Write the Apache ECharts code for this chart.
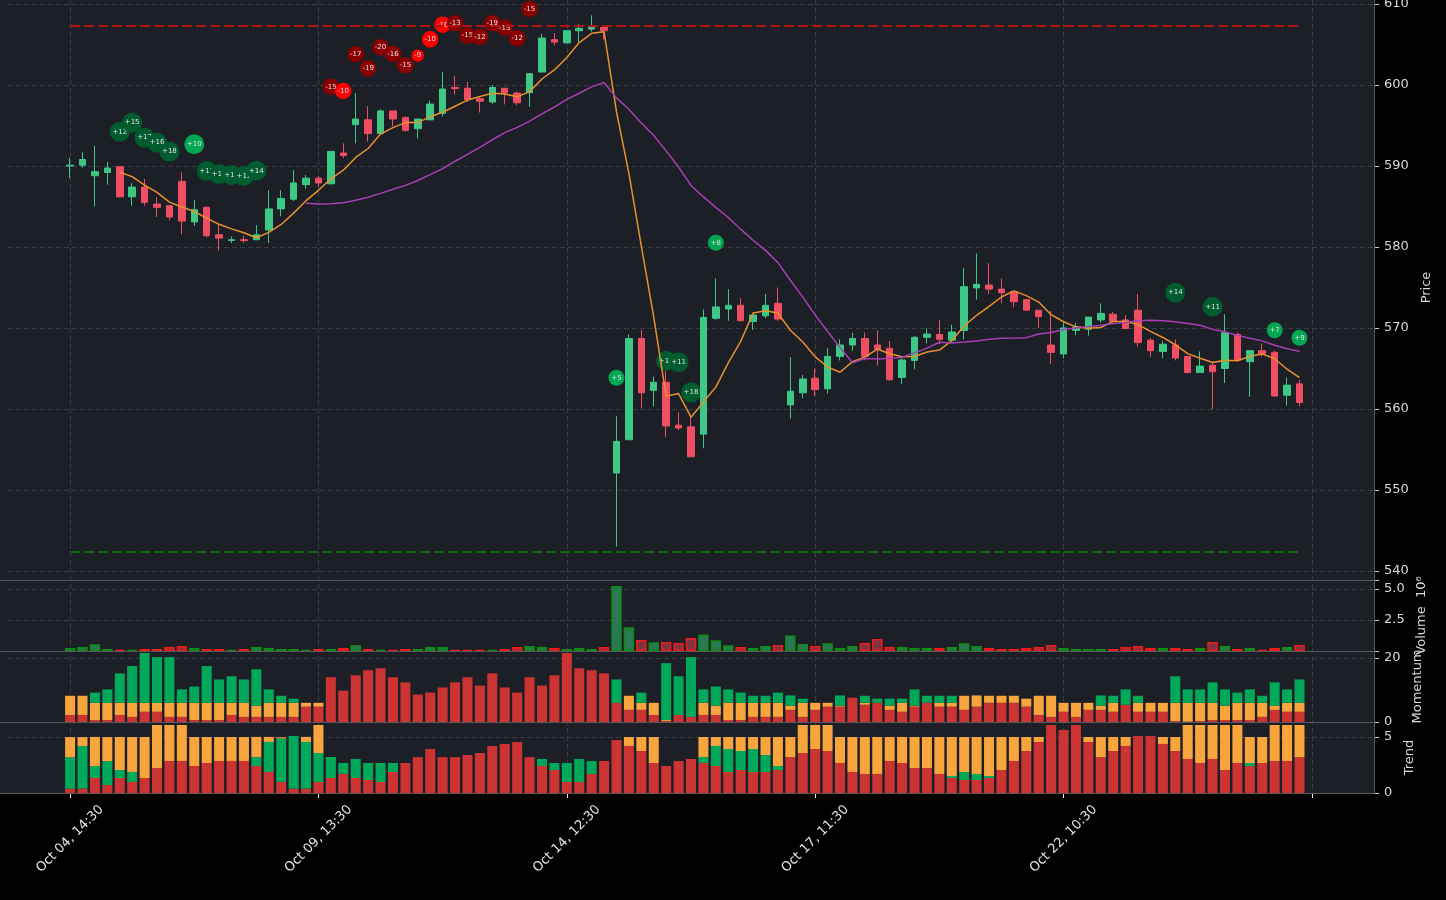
<!DOCTYPE html>
<html><head><meta charset="utf-8">
<script src="https://cdn.jsdelivr.net/npm/echarts/dist/echarts.min.js"></script>
<style>html,body{margin:0;padding:0;background:#000;}#c{width:1446px;height:900px;}</style>
</head><body><div id="c"></div>
<script>
// ---------- data ----------
const tickLabels = ['Oct 04, 14:30','Oct 09, 13:30','Oct 14, 12:30','Oct 17, 11:30','Oct 22, 10:30'];
const opens = [590.0,590.1,588.8,589.2,589.9,586.2,587.4,585.3,585.1,588.1,
583.1,584.9,581.5,580.8,580.9,580.9,582.1,584.7,585.9,587.7,
588.5,587.8,591.6,595.1,595.7,594.0,596.8,596.0,594.6,595.7,
596.5,599.7,599.6,598.3,597.9,599.6,599.0,599.05,601.6,605.6,
605.2,606.7,606.9,607.1,552.1,556.2,568.7,562.3,563.3,558.0,
557.8,556.9,571.2,572.35,572.8,570.8,571.5,573.05,560.5,562.0,
563.8,562.5,566.5,567.9,568.7,567.9,567.5,563.9,566.0,568.85,
569.2,568.5,569.7,574.95,575.3,574.8,574.5,573.5,572.2,567.9,
566.8,569.7,569.85,571.0,571.7,571.0,572.2,568.5,567.1,567.9,
566.5,564.5,565.4,565.0,569.2,565.85,567.2,567.0,561.7,563.1];
const closes = [590.1,590.8,589.3,589.75,586.2,587.4,585.5,584.9,583.7,583.2,
584.6,581.4,581.1,580.9,580.8,581.5,584.7,586.0,587.9,588.5,
587.9,591.8,591.3,595.8,594.0,596.8,595.8,594.4,595.8,597.65,
599.5,599.55,598.2,598.0,599.7,599.0,597.8,601.4,605.8,605.3,
606.7,607.0,607.1,606.7,556.0,568.7,562.0,563.3,557.9,557.65,
554.1,571.3,572.6,572.8,570.9,571.6,572.8,571.1,562.2,563.7,
562.4,566.5,567.9,568.7,566.5,567.4,563.6,566.05,568.85,569.25,
568.6,569.5,575.1,575.4,574.8,574.35,573.25,572.2,571.4,567.0,
570.0,570.1,571.35,571.8,570.8,569.95,568.2,567.2,568.0,566.3,
564.5,565.3,564.6,569.4,566.0,567.2,566.8,561.6,562.95,560.8];
const lows = [588.5,589.8,585.0,587.7,586.1,585.1,585.1,583.7,583.3,581.6,
582.6,581.2,579.6,580.5,580.5,580.9,580.5,583.8,585.7,587.2,
587.4,587.8,591.0,592.8,593.0,594.0,594.9,594.2,593.4,595.7,
596.1,598.85,597.9,596.6,597.7,597.6,597.5,597.3,601.6,604.9,
605.2,605.3,606.6,605.6,543.0,556.2,560.1,560.3,556.5,557.4,
554.1,555.15,571.0,570.9,570.8,569.75,571.2,570.9,558.8,561.3,
561.6,561.9,566.0,567.2,566.0,565.35,563.5,563.05,564.9,568.1,
568.0,568.3,568.6,573.5,574.2,573.05,572.55,572.2,570.0,565.55,
566.25,569.1,569.05,570.65,570.7,569.8,567.7,566.45,566.25,566.0,
564.4,564.5,560.0,563.2,565.85,561.5,566.45,561.6,560.4,560.3];
const highs = [591.0,591.7,592.5,590.5,590.0,587.9,588.4,586.1,585.2,589.2,
585.8,585.0,582.8,581.3,581.4,582.7,587.0,587.0,589.5,588.9,
588.8,591.8,592.8,599.0,597.4,597.0,596.8,596.1,595.8,598.1,
601.6,601.1,600.4,598.6,600.0,599.6,599.2,601.4,606.3,606.4,
606.7,607.5,608.6,607.4,559.1,569.2,569.75,564.0,564.7,559.6,
559.1,572.3,576.1,574.8,573.7,571.8,574.2,575.0,566.4,564.2,
565.0,567.5,568.6,569.4,569.45,569.75,568.4,566.25,569.0,569.95,
571.0,570.4,577.4,579.2,578.0,576.1,574.5,573.5,572.2,572.1,
570.65,570.6,571.35,573.05,572.0,571.6,574.2,568.75,568.4,568.6,
566.5,567.1,565.75,571.7,569.45,567.3,568.1,567.2,563.9,563.6];
const sma5Start = 4;
const sma5 = [589.23,588.69,587.63,586.75,585.54,584.94,584.38,583.56,582.8,582.24,
581.76,581.14,581.8,582.78,584.18,585.72,587.0,588.42,589.48,591.06,
592.16,593.94,594.74,595.36,595.36,596.09,596.63,597.38,598.14,598.58,
598.99,598.89,598.54,599.18,600.74,601.86,603.4,605.24,606.38,606.56,
596.7,589.1,580.1,571.34,561.58,561.91,558.99,560.85,562.71,565.69,
568.34,571.84,572.14,571.84,569.72,568.28,566.44,565.18,564.54,565.84,
566.4,567.4,566.82,566.45,566.48,567.03,567.27,568.45,570.26,571.57,
572.68,573.83,574.58,574.0,573.2,571.64,570.77,570.14,569.97,570.05,
570.81,570.8,570.42,569.59,568.83,567.93,566.84,566.26,565.74,566.02,
565.96,566.5,566.8,566.2,564.91,563.87];
const sma20Start = 19;
const sma20 = [585.41,585.30,585.35,585.45,585.76,586.15,586.62,587.13,587.61,588.21,
588.93,589.68,590.59,591.44,592.30,593.24,594.12,594.77,595.54,596.44,
597.28,598.22,598.98,599.77,600.31,598.41,597.0,595.32,593.76,591.87,
589.87,587.6,586.18,584.9,583.64,582.2,580.83,579.58,578.07,575.89,
573.81,571.59,569.57,567.61,565.71,566.23,566.17,566.25,566.39,566.93,
567.51,568.24,568.15,568.27,568.40,568.6,568.74,568.76,568.81,569.27,
569.44,569.82,570.0,570.17,570.33,570.54,570.67,570.9,570.96,570.91,
570.77,570.56,570.35,569.83,569.53,569.09,568.73,568.41,567.88,567.45,
567.14];
const resistance = 607.28;
const support = 542.35;
const volumeM = [0.24,0.32,0.54,0.16,0.08,0.08,0.16,0.16,0.32,0.40,
0.24,0.16,0.16,0.08,0.16,0.32,0.24,0.16,0.16,0.08,
0.16,0.16,0.24,0.48,0.16,0.08,0.08,0.16,0.16,0.32,
0.32,0.08,0.08,0.08,0.08,0.16,0.32,0.40,0.32,0.24,
0.16,0.24,0.16,0.32,5.24,1.91,0.89,0.70,0.73,0.65,
1.05,1.34,0.86,0.46,0.32,0.24,0.40,0.48,1.26,0.56,
0.40,0.62,0.24,0.40,0.65,0.97,0.32,0.32,0.24,0.24,
0.24,0.32,0.62,0.40,0.24,0.16,0.16,0.24,0.32,0.48,
0.24,0.16,0.16,0.16,0.16,0.32,0.40,0.24,0.24,0.24,
0.16,0.24,0.73,0.40,0.16,0.24,0.08,0.24,0.32,0.48];
const momRed = [2.2,2.2,0.6,0.6,2.2,1.6,3.2,3.2,1.6,1.6,
0.6,0.6,0.6,2.2,1.6,1.6,1.6,1.6,1.6,4.8,
4.8,14.0,9.8,14.6,16.2,16.8,14.0,12.4,8.6,9.2,
10.8,12.4,14.0,11.4,15.2,10.8,9.2,14.0,11.4,14.6,
21.6,16.8,16.2,15.2,6.0,3.8,3.8,2.2,0.3,2.2,
1.6,2.2,2.2,0.6,0.6,1.6,1.6,1.6,3.8,1.6,
3.8,4.8,4.8,7.6,5.4,6.0,3.8,3.2,4.8,6.0,
4.8,4.8,3.8,4.8,6.0,6.0,6.0,4.8,2.2,1.6,
3.2,1.6,3.8,3.8,3.2,5.4,3.2,3.2,3.2,0.3,
0.1,0.3,0.6,0.6,0.6,0.6,1.6,3.8,3.2,3.2];
const momOrange = [6.0,6.0,5.4,5.4,3.8,4.4,2.8,2.8,4.4,4.4,
5.4,5.4,5.4,3.8,4.4,3.5,4.4,4.4,4.4,1.2,
1.2,0,0,0,0,0,0,0,0,0,
0,0,0,0,0,0,0,0,0,0,
0,0,0,0,0,4.4,2.2,3.8,0.3,0,
0,3.8,2.9,5.4,5.4,4.4,4.4,4.4,1.3,4.4,
2.2,1.2,0.3,0,0.6,0,1.3,2.8,0.3,0,
1.2,1.2,4.4,3.5,2.2,2.2,2.2,2.5,6.0,6.6,
2.8,4.4,2.2,1.3,2.8,0,2.8,2.8,2.8,5.7,
5.9,5.7,5.4,4.5,5.4,5.4,4.4,1.3,2.8,2.8];
const momGreen = [0,0,3.2,4.2,9.2,11.5,15.6,14.3,14.3,4.2,
5.1,11.5,7.3,8.3,7.3,11.4,4.2,2.2,1.3,0,
0,0,0,0,0,0,0,0,0,0,
0,0,0,0,0,0,0,0,0,0,
0,0,0,0,7.3,0,3.2,0,17.8,12.1,
18.7,4.2,6.0,4.2,3.2,2.2,2.2,3.2,3.2,1.3,
0,0,3.2,0,2.2,1.3,2.2,1.3,5.1,2.2,
2.2,2.2,0,0,0,0,0,0,0,0,
0,0,0,3.2,2.2,4.8,2.2,0,0,8.3,
4.2,4.2,6.4,5.1,3.2,4.2,2.2,7.3,4.2,7.3];
const trendRed = [0.39,0.39,1.34,0.71,1.34,0.98,1.34,2.23,2.86,2.86,
2.41,2.68,2.86,2.86,2.86,2.41,1.88,0.98,0.39,0.39,
0.98,1.34,1.7,1.34,1.16,0.98,1.88,2.68,3.2,3.93,
3.2,3.2,3.39,3.57,4.2,4.38,4.55,3.2,2.41,2.05,
0.98,0.98,1.7,2.86,4.73,4.2,3.75,2.68,2.41,2.86,
3.04,2.68,2.41,1.88,2.05,1.88,1.88,2.05,3.2,3.57,
3.93,3.75,2.68,1.88,1.7,1.7,2.86,2.68,2.23,2.23,
1.7,1.34,1.16,1.16,1.34,2.05,2.86,3.75,4.55,6.07,
5.63,6.07,4.55,3.2,3.75,4.2,5.09,5.09,4.38,3.75,
3.04,2.68,3.04,2.05,2.68,2.41,2.68,2.86,2.86,3.2];
const trendGreen = [2.8,3.8,1.07,2.14,0.71,0.9,0,0,0,0,
0,0,0,0,0,0.8,2.68,3.9,4.7,4.17,
2.59,1.88,0.98,1.7,1.52,1.7,0.8,0,0,0,
0,0,0,0,0,0,0,0,0.63,0.63,
1.7,2.06,1.16,0,0,0,0,0,0,0,
0,0.52,1.79,2.05,1.7,2.05,1.51,0.36,0,0,
0,0,0,0,0,0,0,0,0,0,
0,0.18,0.71,0.54,0.18,0,0,0,0,0,
0,0,0,0,0,0,0,0,0,0,
0,0,0,0,0,0.27,0,0,0,0];
const trendOrange = [1.8,0.8,2.6,2.14,2.95,3.12,3.66,3.84,3.21,3.21,
2.59,2.32,2.14,2.14,2.14,1.8,0.45,0.1,0,0.45,
2.5,0,0,0,0,0,0,0,0,0,
0,0,0,0,0,0,0,0,0,0,
0,0,0,0,0,0.8,1.25,2.32,0,0,
0,1.8,0.8,1.07,1.25,1.07,1.61,2.59,1.8,2.5,
2.14,2.32,2.32,3.12,3.3,3.3,2.14,2.32,2.77,2.77,
3.3,3.48,3.13,3.3,3.48,2.95,2.14,1.25,0.45,0,
0,0,0.45,1.8,1.25,0.8,0,0,0.62,1.25,
3.03,3.39,3.03,4.02,3.39,2.32,2.32,3.21,3.21,2.87];
const annIdx = [4,5,6,7,8,10,11,12,13,14,15,21,22,23,24,25,26,27,28,29,30,31,32,33,34,35,36,37,44,48,49,50,52,89,92,97,99];
const annVal = [12,15,17,16,18,10,17,17,13,12,14,-15,-10,-17,-19,-20,-16,-15,-9,-10,-10,-13,-15,-12,-19,-13,-12,-15,5,14,11,18,8,14,11,7,9];
const annY = [594.23,595.35,593.5,592.88,591.77,592.68,589.42,589.0,588.89,588.77,589.42,599.79,599.26,603.79,602.06,604.65,603.83,602.43,603.62,605.64,607.44,607.62,606.09,605.96,607.62,607.07,605.77,609.38,563.86,565.96,565.77,562.06,580.53,574.36,572.63,569.72,568.8];

// ---------- layout / style ----------
const OFF = 5, N = 111;
const cats = Array.from({length: N}, (_, k) => String(k - OFF));
function pad(arr, start) {
  const out = new Array(N).fill('-');
  arr.forEach((v, i) => { out[i + start + OFF] = v; });
  return out;
}
const tickFn = (idx) => idx >= OFF && (idx - OFF) % 20 === 0;
const FONT = 'DejaVu Sans';
const C = {bg:'#1c1f26', grid:'#383c44', spine:'#55585e', text:'#d8d8d8',
  up:'#3ec886', down:'#f04e63', sma5:'#e8912c', sma20:'#a83fb6',
  red:'#cc3333', orange:'#f9a53e', green:'#00a85a'};
const gridLine = {show:true, lineStyle:{color:C.grid, type:[5,3], width:1}};
const G = (top, height) => ({left:8, right:72, top, height, outerBoundsMode:'none', containLabel:false});

const hiddenX = (gi) => ({type:'category', gridIndex:gi, data:cats, boundaryGap:false,
  axisLine:{show:false}, axisTick:{show:false}, axisLabel:{show:false}, splitLine:{show:false}});

function yAx(gi, min, max, interval, name, gap, fmt) {
  return {type:'value', gridIndex:gi, position:'right', min, max, interval,
    axisLine:{show:false},
    axisTick:{show:true, length:5, lineStyle:{color:'#cfcfcf'}},
    axisLabel:{color:C.text, fontSize:13, fontFamily:FONT, margin:10, formatter:fmt, padding:[2,0,0,0]},
    splitLine:gridLine,
    name, nameLocation:'middle', nameGap:gap,
    nameTextStyle:{color:C.text, fontSize:13, fontFamily:FONT}};
}
const multOf = (step, dec) => (v) => {
  const q = v / step;
  if (Math.abs(q - Math.round(q)) > 1e-6) return '';
  return dec ? v.toFixed(dec) : String(Math.round(v));
};

const candleData = opens.map((o, i) => [i + OFF, o, closes[i], lows[i], highs[i]]);
const volData = pad(volumeM.map((v, i) => {
  const up = closes[i] >= opens[i];
  return {value: v, itemStyle: up
    ? {color:'#2a7858', borderColor:'#0f8a14', borderWidth:1.5}
    : {color:'#7e3440', borderColor:'#f01a1a', borderWidth:1.5}};
}), 0);

const chart = echarts.init(document.getElementById('c'), null, {renderer:'canvas'});
chart.setOption({
  animation:false,
  backgroundColor:'#000000',
  graphic:[
    {type:'rect', z:-100, silent:true, shape:{x:0, y:0, width:1375, height:793}, style:{fill:C.bg}},
    {type:'line', z:100, silent:true, shape:{x1:0, y1:580.5, x2:1375, y2:580.5}, style:{stroke:C.spine, lineWidth:1}},
    {type:'line', z:100, silent:true, shape:{x1:0, y1:651.5, x2:1375, y2:651.5}, style:{stroke:C.spine, lineWidth:1}},
    {type:'line', z:100, silent:true, shape:{x1:0, y1:722.5, x2:1375, y2:722.5}, style:{stroke:C.spine, lineWidth:1}},
    {type:'line', z:100, silent:true, shape:{x1:0, y1:793.5, x2:1375, y2:793.5}, style:{stroke:C.spine, lineWidth:1}},
    {type:'line', z:100, silent:true, shape:{x1:1374.5, y1:0, x2:1374.5, y2:793}, style:{stroke:C.spine, lineWidth:1}}
  ],
  grid:[G(4, 567), G(580, 71), G(651, 71), G(722, 71), G(0, 793)],
  xAxis:[
    hiddenX(0), hiddenX(1), hiddenX(2),
    {type:'category', gridIndex:3, data:cats, boundaryGap:false,
      axisLine:{show:false},
      axisTick:{show:true, interval:tickFn, length:5, lineStyle:{color:'#e6e6e6'}},
      axisLabel:{show:true, interval:tickFn, rotate:45, align:'center', verticalAlign:'middle', margin:46,
        color:'#e6e6e6', fontSize:13, fontFamily:FONT,
        formatter:(val, idx) => { const t = (idx - OFF) / 20; return tickLabels[t] || ''; }},
      splitLine:{show:false}},
    {type:'category', gridIndex:4, data:cats, boundaryGap:false,
      axisLine:{show:false}, axisTick:{show:false}, axisLabel:{show:false},
      splitLine:{show:true, interval:tickFn, lineStyle:{color:C.grid, type:[5,3], width:1}}}
  ],
  yAxis:[
    yAx(0, 540, 610, 10, 'Price', 41, multOf(10, 0)),
    yAx(1, 0, 5.73, 2.5, 'Volume  10\u2076', 40, (v) => v === 0 ? '' : multOf(2.5, 1)(v)),
    yAx(2, 0, 22.2, 20, 'Momentum', 30, multOf(20, 0)),
    yAx(3, 0, 6.34, 5, 'Trend', 19, multOf(5, 0)),
    {type:'value', gridIndex:4, show:false, min:0, max:1}
  ],
  series:[
    {type:'line', name:'resistance', xAxisIndex:0, yAxisIndex:0, symbol:'none',
      data:[[OFF, resistance], [OFF + opens.length - 1, resistance]],
      lineStyle:{color:'#b01414', width:2, type:[10,4]}},
    {type:'line', name:'support', xAxisIndex:0, yAxisIndex:0, symbol:'none',
      data:[[OFF, support], [OFF + opens.length - 1, support]],
      lineStyle:{color:'#0b6a0b', width:2, type:[10,4]}},
    {type:'candlestick', name:'price', xAxisIndex:0, yAxisIndex:0, barWidth:7,
      data:candleData, encode:{x:0, y:[1,2,3,4]},
      itemStyle:{color:C.up, color0:C.down, borderColor:C.up, borderColor0:C.down, borderWidth:1}},
    {type:'line', name:'SMA5', xAxisIndex:0, yAxisIndex:0, showSymbol:false, symbol:'none',
      data:pad(sma5, sma5Start), lineStyle:{color:C.sma5, width:1.5}},
    {type:'line', name:'SMA20', xAxisIndex:0, yAxisIndex:0, showSymbol:false, symbol:'none',
      data:pad(sma20, sma20Start), lineStyle:{color:C.sma20, width:1.5}},
    {type:'bar', name:'Volume', xAxisIndex:1, yAxisIndex:1, barWidth:10.5, data:volData},
    {type:'bar', xAxisIndex:2, yAxisIndex:2, stack:'m', barWidth:10, data:pad(momRed, 0), itemStyle:{color:C.red}},
    {type:'bar', xAxisIndex:2, yAxisIndex:2, stack:'m', barWidth:10, data:pad(momOrange, 0), itemStyle:{color:C.orange}},
    {type:'bar', xAxisIndex:2, yAxisIndex:2, stack:'m', barWidth:10, data:pad(momGreen, 0), itemStyle:{color:C.green}},
    {type:'bar', xAxisIndex:3, yAxisIndex:3, stack:'t', barWidth:10, data:pad(trendRed, 0), itemStyle:{color:C.red}},
    {type:'bar', xAxisIndex:3, yAxisIndex:3, stack:'t', barWidth:10, data:pad(trendGreen, 0), itemStyle:{color:C.green}},
    {type:'bar', xAxisIndex:3, yAxisIndex:3, stack:'t', barWidth:10, data:pad(trendOrange, 0), itemStyle:{color:C.orange}},
    {type:'custom', name:'signals', xAxisIndex:0, yAxisIndex:0, clip:false,
      data:annIdx.map((k, j) => [k + OFF, annY[j]]), encode:{x:0, y:1},
      renderItem:(params, api) => {
        const j = params.dataIndex;
        const p = api.coord([annIdx[j] + OFF, annY[j]]);
        const v = annVal[j], a = Math.abs(v), bright = a <= 10;
        const fill = v > 0 ? (bright ? '#00a651' : '#005c2e') : (bright ? '#ff0000' : '#8a0000');
        const r = v > 0 ? (a >= 10 ? 10 : 8) : (a >= 10 ? 8.3 : 6.2);
        return {type:'group', children:[
          {type:'circle', shape:{cx:p[0], cy:p[1], r}, style:{fill}},
          {type:'text', style:{x:p[0], y:p[1], text:(v > 0 ? '+' : '') + v, fill:'#e4e4e4',
            font:'7px "DejaVu Sans"', align:'center', verticalAlign:'middle'}}
        ]};
      }}
  ]
});
</script></body></html>
